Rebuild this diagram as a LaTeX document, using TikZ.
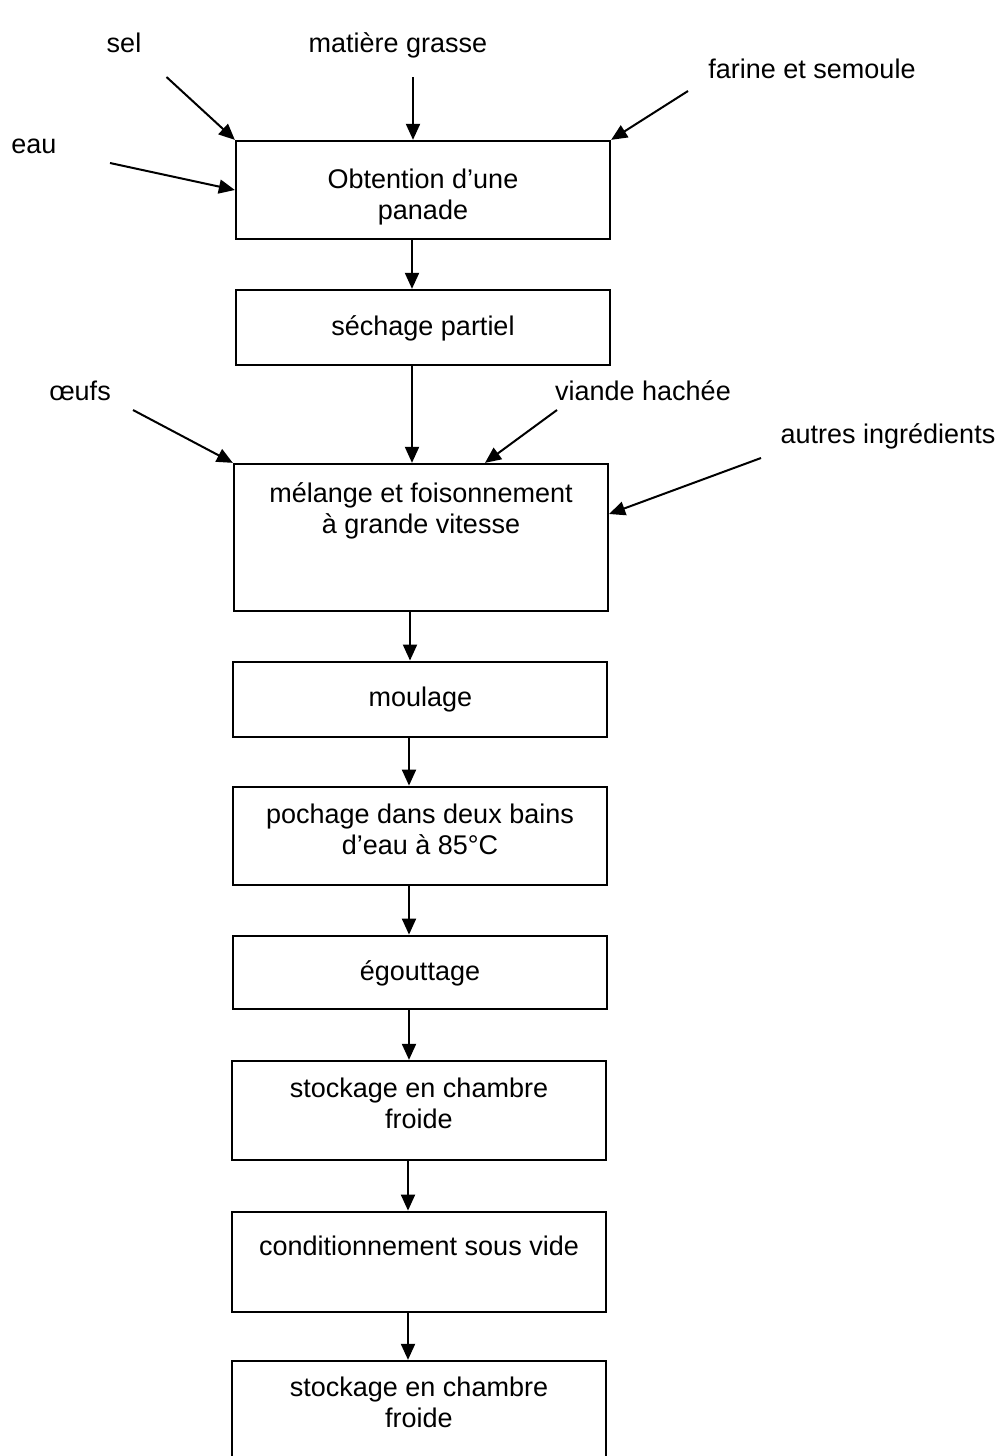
\documentclass[tikz,border=0pt]{standalone}
\usepackage{fontspec}
\setmainfont{Liberation Sans}
\usetikzlibrary{arrows.meta}
\begin{document}
\begin{tikzpicture}[x=1pt,y=-1pt,
  every node/.style={font=\fontsize{27}{31}\selectfont},
  procbox/.style={draw, line width=2.3pt, inner sep=0pt, align=center, minimum width=374pt},
  flow/.style={line width=2pt, -{Triangle[length=16pt,width=14pt]}},
  inlabel/.style={anchor=base, inner sep=0pt}]
\useasboundingbox (0,0) rectangle (1004,1456);
\clip (0,0) rectangle (1004,1456);
\fill[white] (0,0) rectangle (1004,1456);

% process boxes
\node[procbox, minimum height=98pt, text height=58pt, text depth=0pt] (b1) at (423,190) {Obtention d’une\\panade};
\node[procbox, minimum height=75pt, text height=15pt, text depth=0pt] (b2) at (423,327.5) {séchage partiel};
\node[procbox, minimum height=147pt, text height=0pt, text depth=9pt] (b3) at (421,537.5) {mélange et foisonnement\\à grande vitesse};
\node[procbox, minimum height=75pt, text height=13.6pt, text depth=0pt] (b4) at (420.3,699.2) {moulage};
\node[procbox, minimum height=98.3pt, text height=36.8pt, text depth=0pt] (b5) at (420,835.9) {pochage dans deux bains\\d’eau à 85°C};
\node[procbox, minimum height=73.3pt, text height=15.2pt, text depth=0pt] (b6) at (420,972.4) {égouttage};
\node[procbox, minimum height=99pt, text height=35.6pt, text depth=0pt] (b7) at (419,1110.5) {stockage en chambre\\froide};
\node[procbox, minimum height=100.3pt, text height=0pt, text depth=13.8pt] (b8) at (419,1261.9) {conditionnement sous vide};
\node[procbox, minimum height=100pt, text height=33.4pt, text depth=0pt] (b9) at (419,1411) {stockage en chambre\\froide};

% input labels
\node[inlabel] (sel) at (124,52) {sel};
\node[inlabel] (mg) at (398,52) {matière grasse};
\node[inlabel] (far) at (812,78) {farine et semoule};
\node[inlabel] (eau) at (34,153) {eau};
\node[inlabel] (oeufs) at (80,400) {œufs};
\node[inlabel] (viande) at (643,400) {viande hachée};
\node[inlabel] (autres) at (888,443) {autres ingrédients};

% free ends of input arrows
\coordinate (sel-s) at (166.5,77);
\coordinate (mg-s) at (413,77);
\coordinate (far-s) at (688,91);
\coordinate (eau-s) at (110,163);
\coordinate (oeufs-s) at (133,410);
\coordinate (viande-s) at (557,410);
\coordinate (autres-s) at (761,458);

% input arrows
\draw[flow] (sel-s) -- (b1.north west);
\draw[flow] (mg-s) -- ([xshift=-10pt]b1.north);
\draw[flow] (far-s) -- (b1.north east);
\draw[flow] (eau-s) -- (b1.west);
\draw[flow] (oeufs-s) -- (b3.north west);
\draw[flow] (viande-s) -- ([xshift=64pt]b3.north);
\draw[flow] (autres-s) -- ([yshift=23.5pt]b3.east);

% main flow
\draw[flow] ([xshift=-11pt]b1.south) -- ([xshift=-11pt]b2.north);
\draw[flow] ([xshift=-11pt]b2.south) -- ([xshift=-9pt]b3.north);
\draw[flow] ([xshift=-11pt]b3.south) -- ([xshift=-10.3pt]b4.north);
\draw[flow] ([xshift=-11.3pt]b4.south) -- ([xshift=-11pt]b5.north);
\draw[flow] ([xshift=-11pt]b5.south) -- ([xshift=-11pt]b6.north);
\draw[flow] ([xshift=-11pt]b6.south) -- ([xshift=-10pt]b7.north);
\draw[flow] ([xshift=-11pt]b7.south) -- ([xshift=-11pt]b8.north);
\draw[flow] ([xshift=-11pt]b8.south) -- ([xshift=-11pt]b9.north);
\end{tikzpicture}
\end{document}
